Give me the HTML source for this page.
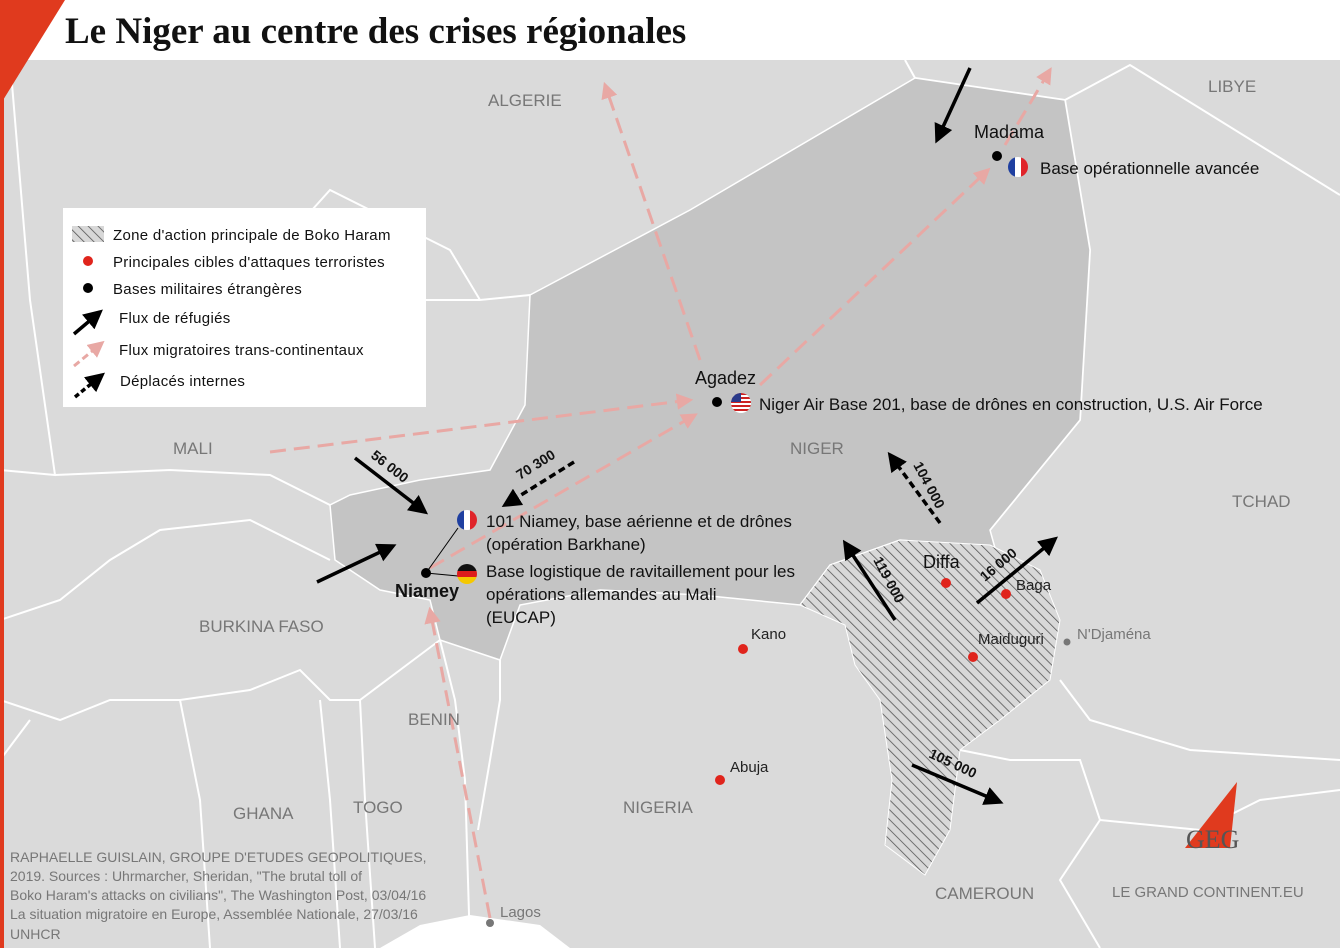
<!DOCTYPE html>
<html><head><meta charset="utf-8"><style>
html,body{margin:0;padding:0;width:1340px;height:948px;overflow:hidden;background:#fff}
svg{display:block}
text{font-family:"Liberation Sans",sans-serif}
</style></head><body>
<svg width="1340" height="948" viewBox="0 0 1340 948" xmlns="http://www.w3.org/2000/svg">
<defs>
<pattern id="hatch" width="7" height="7" patternUnits="userSpaceOnUse" patternTransform="rotate(-45)">
<rect width="7" height="7" fill="#d8d8d8"/><line x1="0" y1="0" x2="0" y2="7" stroke="#555" stroke-width="1.6"/>
</pattern>
<marker id="bk" viewBox="0 0 10 10" refX="8" refY="5" markerWidth="5.5" markerHeight="5.5" orient="auto"><path d="M0,0L10,5L0,10z" fill="#000"/></marker>
<marker id="pk" viewBox="0 0 10 10" refX="8" refY="5" markerWidth="5.5" markerHeight="5.5" orient="auto"><path d="M0,0L10,5L0,10z" fill="#e8a8a4"/></marker>
</defs>
<rect width="1340" height="948" fill="#dadada"/>
<rect width="1340" height="60" fill="#fff"/>
<g fill="none" stroke="#fff" stroke-width="2">
<path d="M10,60 L15,120 L30,300 L55,475 L0,470"/>
<path d="M55,475 L170,470 L270,475 L330,505"/>
<path d="M530,295 L480,300 L450,250 L380,215 L330,190 L285,240 L300,300 L250,315 L200,295"/>
<path d="M300,300 L350,305 L400,300 L480,300"/>
<path d="M905,60 L915,78 L1065,100 L1130,65 L1340,195"/>
<path d="M1065,100 L1090,250 L1080,420 L990,530"/>
<path d="M330,560 L250,520 L160,530 L110,560 L60,600 L0,620"/>
<path d="M0,700 L60,720 L110,700 L180,700 L250,690 L300,670 L330,700 L360,700 L400,670 L440,640"/>
<path d="M180,700 L200,800 L210,948"/>
<path d="M320,700 L330,800 L340,948"/>
<path d="M360,700 L365,800 L375,948"/>
<path d="M440,640 L455,700 L465,780 L470,948"/>
<path d="M500,660 L500,700 L490,760 L478,830"/>
<path d="M960,750 L1010,760 L1080,760 L1100,820 L1060,880 L1100,948"/>
<path d="M1060,680 L1090,720 L1190,750 L1340,760"/>
<path d="M1100,820 L1200,830 L1260,800 L1340,790"/>
<path d="M0,760 L30,720"/>
</g>
<path d="M530,295 L690,210 L915,78 L1065,100 L1090,250 L1080,420 L990,530 L995,548 L900,540 L830,565 L800,605 L700,595 L600,590 L520,605 L500,660 L440,640 L430,600 L380,590 L335,560 L330,505 L350,495 L420,480 L490,470 L525,405 Z" fill="#c4c4c4" stroke="#fff" stroke-width="1.5"/>
<path d="M800,605 L830,565 L900,540 L990,545 L1040,570 L1060,620 L1050,680 L1000,720 L960,750 L950,830 L925,875 L885,845 L892,780 L880,700 L855,665 L845,625 Z" fill="url(#hatch)" stroke="#fff" stroke-width="1"/>
<path d="M380,948 L420,925 L470,915 L540,925 L570,948 Z" fill="#fff"/>
<path d="M0,0 L65,0 L0,105 Z" fill="#e03a1e"/>
<rect x="0" y="0" width="4" height="948" fill="#e03a1e"/>
<text x="65" y="43" font-size="37" font-weight="bold" fill="#111" style="font-family:'Liberation Serif',serif">Le Niger au centre des crises régionales</text>
<g stroke="#e8a8a4" stroke-width="3" stroke-dasharray="16,8" fill="none" marker-end="url(#pk)">
<line x1="700" y1="360" x2="605" y2="85"/>
<line x1="760" y1="385" x2="988" y2="170"/>
<line x1="1005" y1="145" x2="1050" y2="70"/>
<line x1="270" y1="452" x2="690" y2="400"/>
<line x1="430" y1="568" x2="695" y2="415"/>
<line x1="490" y1="918" x2="430" y2="610"/>
</g>
<g stroke="#000" stroke-width="3.5" fill="none" marker-end="url(#bk)">
<line x1="970" y1="68" x2="937" y2="140"/>
<line x1="355" y1="458" x2="425" y2="512"/>
<line x1="317" y1="582" x2="393" y2="546"/>
<line x1="895" y1="620" x2="845" y2="543"/>
<line x1="977" y1="603" x2="1055" y2="539"/>
<line x1="912" y1="765" x2="1000" y2="802"/>
</g>
<g stroke="#000" stroke-width="3.5" stroke-dasharray="7,4" fill="none" marker-end="url(#bk)">
<line x1="574" y1="462" x2="505" y2="505"/>
<line x1="940" y1="523" x2="890" y2="455"/>
</g>
<g font-size="14" font-weight="bold" fill="#111">
<text transform="translate(370,457) rotate(38)">56 000</text>
<text transform="translate(520,480) rotate(-32)">70 300</text>
<text transform="translate(913,465) rotate(62)">104 000</text>
<text transform="translate(873,560) rotate(62)">119 000</text>
<text transform="translate(985,582) rotate(-40)">16 000</text>
<text transform="translate(928,757) rotate(25)">105 000</text>
</g>
<g font-size="17" fill="#777">
<text x="488" y="106">ALGERIE</text>
<text x="1208" y="92">LIBYE</text>
<text x="173" y="454">MALI</text>
<text x="790" y="454">NIGER</text>
<text x="1232" y="507">TCHAD</text>
<text x="199" y="632">BURKINA FASO</text>
<text x="408" y="725">BENIN</text>
<text x="233" y="819">GHANA</text>
<text x="353" y="813">TOGO</text>
<text x="623" y="813">NIGERIA</text>
<text x="935" y="899">CAMEROUN</text>
<text x="1112" y="897" font-size="15">LE GRAND CONTINENT.EU</text>
</g>
<circle cx="997" cy="156" r="5" fill="#000"/>
<circle cx="717" cy="402" r="5" fill="#000"/>
<circle cx="426" cy="573" r="5" fill="#000"/>
<g fill="#e0241c"><circle cx="946" cy="583" r="5"/><circle cx="1006" cy="594" r="5"/><circle cx="973" cy="657" r="5"/><circle cx="743" cy="649" r="5"/><circle cx="720" cy="780" r="5"/></g>
<circle cx="1067" cy="642" r="3.5" fill="#777"/><circle cx="490" cy="923" r="4" fill="#777"/>
<line x1="426" y1="573" x2="458" y2="528" stroke="#000" stroke-width="1"/>
<line x1="426" y1="573" x2="458" y2="576" stroke="#000" stroke-width="1"/>
<clipPath id="c1"><circle cx="1018" cy="167" r="10"/></clipPath>
<g clip-path="url(#c1)"><rect x="1008" y="157" width="7" height="20" fill="#1f3fa0"/><rect x="1015" y="157" width="6" height="20" fill="#fff"/><rect x="1021" y="157" width="8" height="20" fill="#e0242a"/></g>
<clipPath id="c2"><circle cx="467" cy="520" r="10"/></clipPath>
<g clip-path="url(#c2)"><rect x="457" y="510" width="7" height="20" fill="#1f3fa0"/><rect x="464" y="510" width="6" height="20" fill="#fff"/><rect x="470" y="510" width="8" height="20" fill="#e0242a"/></g>
<clipPath id="c3"><circle cx="467" cy="574" r="10"/></clipPath>
<g clip-path="url(#c3)"><rect x="457" y="564" width="20" height="7" fill="#111"/><rect x="457" y="571" width="20" height="6" fill="#dd1c1c"/><rect x="457" y="577" width="20" height="8" fill="#f5c800"/></g>
<clipPath id="c4"><circle cx="741" cy="403" r="10"/></clipPath>
<g clip-path="url(#c4)"><rect x="731" y="393" width="20" height="20" fill="#fff"/><g fill="#c22"><rect x="731" y="393" width="20" height="2"/><rect x="731" y="397" width="20" height="2"/><rect x="731" y="401" width="20" height="2"/><rect x="731" y="405" width="20" height="2"/><rect x="731" y="409" width="20" height="2"/></g><rect x="731" y="393" width="10" height="9" fill="#2a3a8a"/></g>
<g font-size="18" fill="#111">
<text x="974" y="138">Madama</text>
<text x="1040" y="174" font-size="17">Base opérationnelle avancée</text>
<text x="695" y="384">Agadez</text>
<text x="759" y="410" font-size="17">Niger Air Base 201, base de drônes en construction, U.S. Air Force</text>
<text x="486" y="527" font-size="17">101 Niamey, base aérienne et de drônes</text>
<text x="486" y="550" font-size="17">(opération Barkhane)</text>
<text x="486" y="577" font-size="17">Base logistique de ravitaillement pour les</text>
<text x="486" y="600" font-size="17">opérations allemandes au Mali</text>
<text x="486" y="623" font-size="17">(EUCAP)</text>
<text x="395" y="597" font-weight="bold">Niamey</text>
<text x="923" y="568">Diffa</text>
</g>
<g font-size="15" fill="#222">
<text x="1016" y="590">Baga</text><text x="978" y="644">Maiduguri</text><text x="751" y="639">Kano</text><text x="730" y="772">Abuja</text>
<text x="1077" y="639" fill="#777">N'Djaména</text><text x="500" y="917" fill="#777">Lagos</text>
</g>
<rect x="63" y="208" width="363" height="199" fill="#fff"/>
<rect x="72" y="226" width="32" height="16" fill="url(#hatch)"/>
<circle cx="88" cy="261" r="5" fill="#e0241c"/><circle cx="88" cy="288" r="5" fill="#000"/>
<line x1="74" y1="334" x2="100" y2="312" stroke="#000" stroke-width="3.5" marker-end="url(#bk)"/>
<line x1="74" y1="366" x2="102" y2="343" stroke="#e8a8a4" stroke-width="3" stroke-dasharray="7,4" marker-end="url(#pk)"/>
<line x1="75" y1="397" x2="102" y2="375" stroke="#000" stroke-width="3.5" stroke-dasharray="5,3" marker-end="url(#bk)"/>
<g font-size="15" fill="#111" letter-spacing="0.3">
<text x="113" y="240">Zone d'action principale de Boko Haram</text>
<text x="113" y="267">Principales cibles d'attaques terroristes</text>
<text x="113" y="294">Bases militaires étrangères</text>
<text x="119" y="323">Flux de réfugiés</text>
<text x="119" y="355">Flux migratoires trans-continentaux</text>
<text x="120" y="386">Déplacés internes</text>
</g>
<g font-size="14" fill="#777">
<text x="10" y="862">RAPHAELLE GUISLAIN, GROUPE D'ETUDES GEOPOLITIQUES,</text>
<text x="10" y="881">2019. Sources : Uhrmarcher, Sheridan, "The brutal toll of</text>
<text x="10" y="900">Boko Haram's attacks on civilians", The Washington Post, 03/04/16</text>
<text x="10" y="919">La situation migratoire en Europe, Assemblée Nationale, 27/03/16</text>
<text x="10" y="939">UNHCR</text>
</g>
<path d="M1237,782 L1230,848 L1185,848 Z" fill="#e03a1e"/>
<text x="1186" y="848" font-size="26" fill="#555" style="font-family:'Liberation Serif',serif">GEG</text>
</svg>
</body></html>
